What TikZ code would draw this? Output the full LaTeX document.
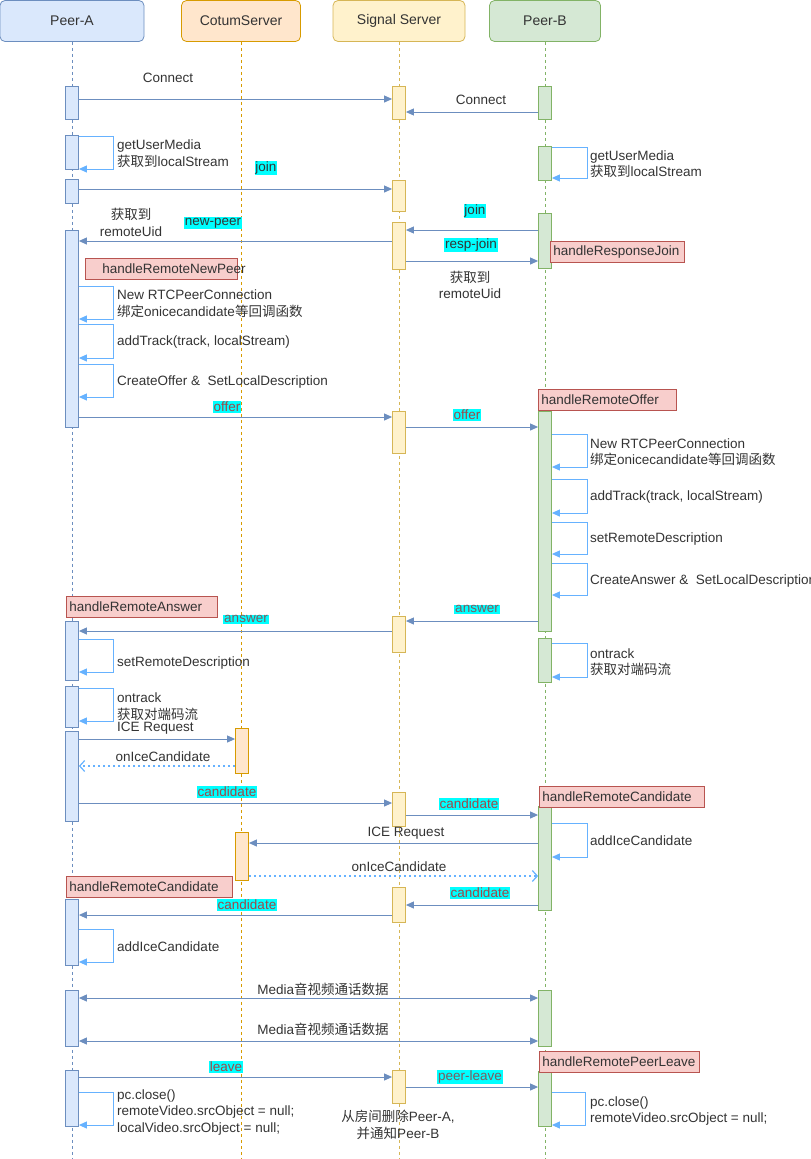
\documentclass[tikz,border=0pt]{standalone}
\usepackage{fontspec}
\setmainfont{Liberation Sans}
\newfontfamily\cjk{Noto Sans CJK SC}
\usetikzlibrary{arrows.meta}

\definecolor{txt}{HTML}{333333}
\definecolor{aFill}{HTML}{DAE8FC}
\definecolor{aLine}{HTML}{6C8EBF}
\definecolor{cFill}{HTML}{FFE6CC}
\definecolor{cLine}{HTML}{D79B00}
\definecolor{sFill}{HTML}{FFF2CC}
\definecolor{sLine}{HTML}{D6B656}
\definecolor{bFill}{HTML}{D5E8D4}
\definecolor{bLine}{HTML}{82B366}
\definecolor{hFill}{HTML}{F8CECC}
\definecolor{hLine}{HTML}{B85450}
\definecolor{msgLine}{HTML}{6C8EBF}
\definecolor{selfLine}{HTML}{66B2FF}
\definecolor{tagFill}{HTML}{00FFFF}
\definecolor{tagRed}{HTML}{9E4848}
\definecolor{tagGray}{HTML}{7E5A5E}

\begin{document}
\begin{tikzpicture}[
   x=1pt, y=-1pt,
   font=\fontsize{13.5}{16.5}\selectfont,
   every node/.append style={text=txt},
   actor/.style={rectangle, draw, rounded corners=5pt, line width=0.8pt, minimum height=41pt, font=\fontsize{14}{16}\selectfont},
   act/.style={rectangle, draw, line width=0.8pt, minimum width=13pt, inner sep=0pt},
   actA/.style={act, fill=aFill, draw=aLine},
   actC/.style={act, fill=cFill, draw=cLine},
   actS/.style={act, fill=sFill, draw=sLine},
   actB/.style={act, fill=bFill, draw=bLine},
   life/.style={line width=0.8pt, dash pattern=on 3pt off 3pt},
   msg/.style={draw=msgLine, line width=1pt, -{Triangle[length=8pt,width=7pt]}},
   both/.style={draw=msgLine, line width=1pt, {Triangle[length=8pt,width=7pt]}-{Triangle[length=8pt,width=7pt]}},
   selfmsg/.style={draw=selfLine, line width=1pt, -{Triangle[length=8pt,width=7pt]}},
   reply/.style={draw=selfLine, line width=1.2pt, dash pattern=on 2pt off 3pt, -{Straight Barb[length=5pt,width=11pt]}},
   handler/.style={rectangle, draw=hLine, fill=hFill, line width=0.8pt, anchor=west, inner xsep=3pt, inner ysep=0pt, minimum height=21pt, align=left},
   note/.style={inner sep=0pt, anchor=west, align=left},
   cnote/.style={inner sep=0pt, align=center},
   tag/.style={fill=tagFill, inner sep=0.8pt},
   tagr/.style={tag, text=tagRed},
   tagg/.style={tag, text=tagGray}
]
\useasboundingbox (0,0) rectangle (811,1159);

% Participants
\node[actor, fill=aFill, draw=aLine, minimum width=144pt] (peerA) at (72,21) {Peer-A};
\node[actor, fill=cFill, draw=cLine, minimum width=119pt] (cotum) at (241,21) {CotumServer};
\node[actor, fill=sFill, draw=sLine, minimum width=132pt] (signal) at (399,21) {Signal Server};
\node[actor, fill=bFill, draw=bLine, minimum width=111pt] (peerB) at (545,21) {Peer-B};

% Lifelines
\coordinate (endA) at (72,1159);
\coordinate (endC) at (241,1159);
\coordinate (endS) at (399,1159);
\coordinate (endB) at (545,1159);
\draw[life, draw=aLine] (peerA) -- (endA);
\draw[life, draw=cLine] (cotum) -- (endC);
\draw[life, draw=sLine] (signal) -- (endS);
\draw[life, draw=bLine] (peerB) -- (endB);

% Activations Peer-A
\node[actA, minimum height=33pt] (pa1) at (72,102.5) {};
\node[actA, minimum height=34pt] (pa2) at (72,152) {};
\node[actA, minimum height=24pt] (pa3) at (72,191) {};
\node[actA, minimum height=197pt] (pa4) at (72,328.5) {};
\node[actA, minimum height=59pt] (pa5) at (72,650.5) {};
\node[actA, minimum height=41pt] (pa6) at (72,706.5) {};
\node[actA, minimum height=90pt] (pa7) at (72,776) {};
\node[actA, minimum height=66pt] (pa8) at (72,932) {};
\node[actA, minimum height=56pt] (pa9) at (72,1018) {};
\node[actA, minimum height=56pt] (pa10) at (72,1098) {};

% Activations CotumServer
\node[actC, minimum height=45pt] (pc1) at (242,750.5) {};
\node[actC, minimum height=48pt] (pc2) at (242,856) {};

% Activations Signal Server
\node[actS, minimum height=33pt] (ps1) at (399,102.5) {};
\node[actS, minimum height=31pt] (ps2) at (399,195.5) {};
\node[actS, minimum height=47pt] (ps3) at (399,245.5) {};
\node[actS, minimum height=42pt] (ps4) at (399,432) {};
\node[actS, minimum height=36pt] (ps5) at (399,634) {};
\node[actS, minimum height=34pt] (ps6) at (399,809) {};
\node[actS, minimum height=35pt] (ps7) at (399,904.5) {};
\node[actS, minimum height=33pt] (ps8) at (399,1086.5) {};

% Activations Peer-B
\node[actB, minimum height=33pt] (pb1) at (545,102.5) {};
\node[actB, minimum height=34pt] (pb2) at (545,163) {};
\node[actB, minimum height=55pt] (pb3) at (545,240.5) {};
\node[actB, minimum height=220pt] (pb4) at (545,521) {};
\node[actB, minimum height=44pt] (pb5) at (545,660) {};
\node[actB, minimum height=104pt] (pb6) at (545,858) {};
\node[actB, minimum height=56pt] (pb7) at (545,1018) {};
\node[actB, minimum height=55pt] (pb8) at (545,1098.5) {};

% Handlers
\node[handler, text width=128pt] (hrj) at (550,252) {handleResponseJoin};
\node[handler, text width=146pt] (hnp) at (85,269) {\hspace*{14pt}\mbox{handleRemoteNewPeer}};
\node[handler, text width=132pt] (hro) at (538,400) {handleRemoteOffer};
\node[handler, text width=145pt] (hra) at (66,606.5) {handleRemoteAnswer};
\node[handler, text width=159pt] (hrcB) at (539,796.5) {handleRemoteCandidate};
\node[handler, text width=160pt] (hrcA) at (66,886.5) {handleRemoteCandidate};
\node[handler, text width=154pt] (hrpl) at (539,1061.5) {handleRemotePeerLeave};

% Connect
\draw[msg] (pa1.east |- 0,99) -- (ps1.west |- 0,99);
\node (lConnA) at (168,78) {Connect};
\draw[msg] (pb1.west |- 0,112) -- (ps1.east |- 0,112);
\node (lConnB) at (481,100) {Connect};

% getUserMedia
\draw[selfmsg] (pa2.east |- 0,136) -- ++(34.5,0) |- (pa2.east |- 0,169);
\node[note] (lGumA) at (117,153.5) {getUserMedia\\{\cjk 获取到}localStream};
\draw[selfmsg] (pb2.east |- 0,147) -- ++(35.5,0) |- (pb2.east |- 0,178);
\node[note] (lGumB) at (590,164) {getUserMedia\\{\cjk 获取到}localStream};

% join / new-peer / resp-join
\draw[msg] (pa3.east |- 0,189) -- (ps2.west |- 0,189);
\node[tag] (tJoinA) at (266,168) {join};
\draw[msg] (pb3.west |- 0,230) -- (ps3.east |- 0,230);
\node[tag] (tJoinB) at (475,211) {join};
\draw[msg] (ps3.west |- 0,241) -- (pa4.east |- 0,241);
\node[tag] (tNewPeer) at (213,223) {new-peer};
\node[cnote] (lUidA) at (131,222.5) {{\cjk 获取到}\\remoteUid};
\draw[msg] (ps3.east |- 0,261) -- (pb3.west |- 0,261);
\node[tag] (tResp) at (471,245) {resp-join};
\node[cnote] (lUidB) at (470,285) {{\cjk 获取到}\\remoteUid};

% handleRemoteNewPeer
\draw[selfmsg] (pa4.east |- 0,286) -- ++(34.5,0) |- (pa4.east |- 0,319);
\node[note] (lPcA) at (117,303.5) {New RTCPeerConnection\\{\cjk 绑定}onicecandidate{\cjk 等回调函数}};
\draw[selfmsg] (pa4.east |- 0,324) -- ++(34.5,0) |- (pa4.east |- 0,358);
\node[note] (lTrackA) at (117,342) {addTrack(track, localStream)};
\draw[selfmsg] (pa4.east |- 0,364) -- ++(34.5,0) |- (pa4.east |- 0,397);
\node[note] (lOfferA) at (117,382) {CreateOffer \& \ SetLocalDescription};

% offer
\draw[msg] (pa4.east |- 0,417) -- (ps4.west |- 0,417);
\node[tagr] (tOfferA) at (227,407) {offer};
\draw[msg] (ps4.east |- 0,427) -- (pb4.west |- 0,427);
\node[tagr] (tOfferB) at (467,415) {offer};

% handleRemoteOffer
\draw[selfmsg] (pb4.east |- 0,434) -- ++(35.5,0) |- (pb4.east |- 0,467);
\node[note] (lPcB) at (590,452) {New RTCPeerConnection\\{\cjk 绑定}onicecandidate{\cjk 等回调函数}};
\draw[selfmsg] (pb4.east |- 0,479) -- ++(35.5,0) |- (pb4.east |- 0,513);
\node[note] (lTrackB) at (590,497) {addTrack(track, localStream)};
\draw[selfmsg] (pb4.east |- 0,522) -- ++(35.5,0) |- (pb4.east |- 0,554);
\node[note] (lRemB) at (590,539) {setRemoteDescription};
\draw[selfmsg] (pb4.east |- 0,563) -- ++(35.5,0) |- (pb4.east |- 0,595);
\node[note] (lAnsB) at (590,581) {CreateAnswer \& \ SetLocalDescription};

% answer
\draw[msg] (pb4.west |- 0,621) -- (ps5.east |- 0,621);
\node[tagg] (tAnsB) at (477,609) {answer};
\draw[msg] (ps5.west |- 0,631) -- (pa5.east |- 0,631);
\node[tagg] (tAnsA) at (246,619) {answer};
\draw[selfmsg] (pa5.east |- 0,639) -- ++(34.5,0) |- (pa5.east |- 0,672);
\node[note] (lRemA) at (117,663) {setRemoteDescription};

% ontrack
\draw[selfmsg] (pb5.east |- 0,643) -- ++(35.5,0) |- (pb5.east |- 0,677);
\node[note] (lTrkB) at (590,662) {ontrack\\{\cjk 获取对端码流}};
\draw[selfmsg] (pa6.east |- 0,688) -- ++(34.5,0) |- (pa6.east |- 0,721);
\node[note] (lTrkA) at (117,706.5) {ontrack\\{\cjk 获取对端码流}};

% ICE Peer-A
\draw[msg] (pa7.east |- 0,739) -- (pc1.west |- 0,739);
\node[note] (lIceA) at (117,728.5) {ICE Request};
\draw[reply] (pc1.west |- 0,766) -- (pa7.east |- 0,766);
\node (lOnIceA) at (163,757) {onIceCandidate};

% candidate Peer-A -> Peer-B
\draw[msg] (pa7.east |- 0,803) -- (ps6.west |- 0,803);
\node[tagr] (tCandA) at (227,792) {candidate};
\draw[msg] (ps6.east |- 0,815) -- (pb6.west |- 0,815);
\node[tagr] (tCandB) at (469,804) {candidate};
\draw[selfmsg] (pb6.east |- 0,823) -- ++(35.5,0) |- (pb6.east |- 0,857);
\node[note] (lAddIceB) at (590,841) {addIceCandidate};

% ICE Peer-B
\draw[msg] (pb6.west |- 0,843) -- (pc2.east |- 0,843);
\node (lIceB) at (406,833) {ICE Request};
\draw[reply] (pc2.east |- 0,876) -- (pb6.west |- 0,876);
\node (lOnIceB) at (399,867) {onIceCandidate};

% candidate Peer-B -> Peer-A
\draw[msg] (pb6.west |- 0,905) -- (ps7.east |- 0,905);
\node[tagr] (tCandC) at (480,893) {candidate};
\draw[msg] (ps7.west |- 0,915) -- (pa8.east |- 0,915);
\node[tagr] (tCandD) at (247,905) {candidate};
\draw[selfmsg] (pa8.east |- 0,929) -- ++(34.5,0) |- (pa8.east |- 0,962);
\node[note] (lAddIceA) at (117,947) {addIceCandidate};

% Media
\draw[both] (pa9.east |- 0,998) -- (pb7.west |- 0,998);
\node (lMedia1) at (323,989) {Media{\cjk 音视频通话数据}};
\draw[both] (pa9.east |- 0,1041) -- (pb7.west |- 0,1041);
\node (lMedia2) at (323,1029) {Media{\cjk 音视频通话数据}};

% leave
\draw[msg] (pa10.east |- 0,1077) -- (ps8.west |- 0,1077);
\node[tagr] (tLeave) at (226,1067) {leave};
\draw[msg] (ps8.east |- 0,1087) -- (pb8.west |- 0,1087);
\node[tagg] (tPeerLeave) at (470,1077) {peer-leave};
\node[cnote] (lRemove) at (398,1125) {{\cjk 从房间删除}Peer-A,\\{\cjk 并通知}Peer-B};
\draw[selfmsg] (pa10.east |- 0,1092) -- ++(34.5,0) |- (pa10.east |- 0,1125);
\node[note] (lCloseA) at (117,1112) {pc.close()\\remoteVideo.srcObject = null;\\localVideo.srcObject = null;};
\draw[selfmsg] (pb8.east |- 0,1092) -- ++(33.5,0) |- (pb8.east |- 0,1125);
\node[note] (lCloseB) at (590,1111) {pc.close()\\remoteVideo.srcObject = null;};

\end{tikzpicture}
\end{document}
